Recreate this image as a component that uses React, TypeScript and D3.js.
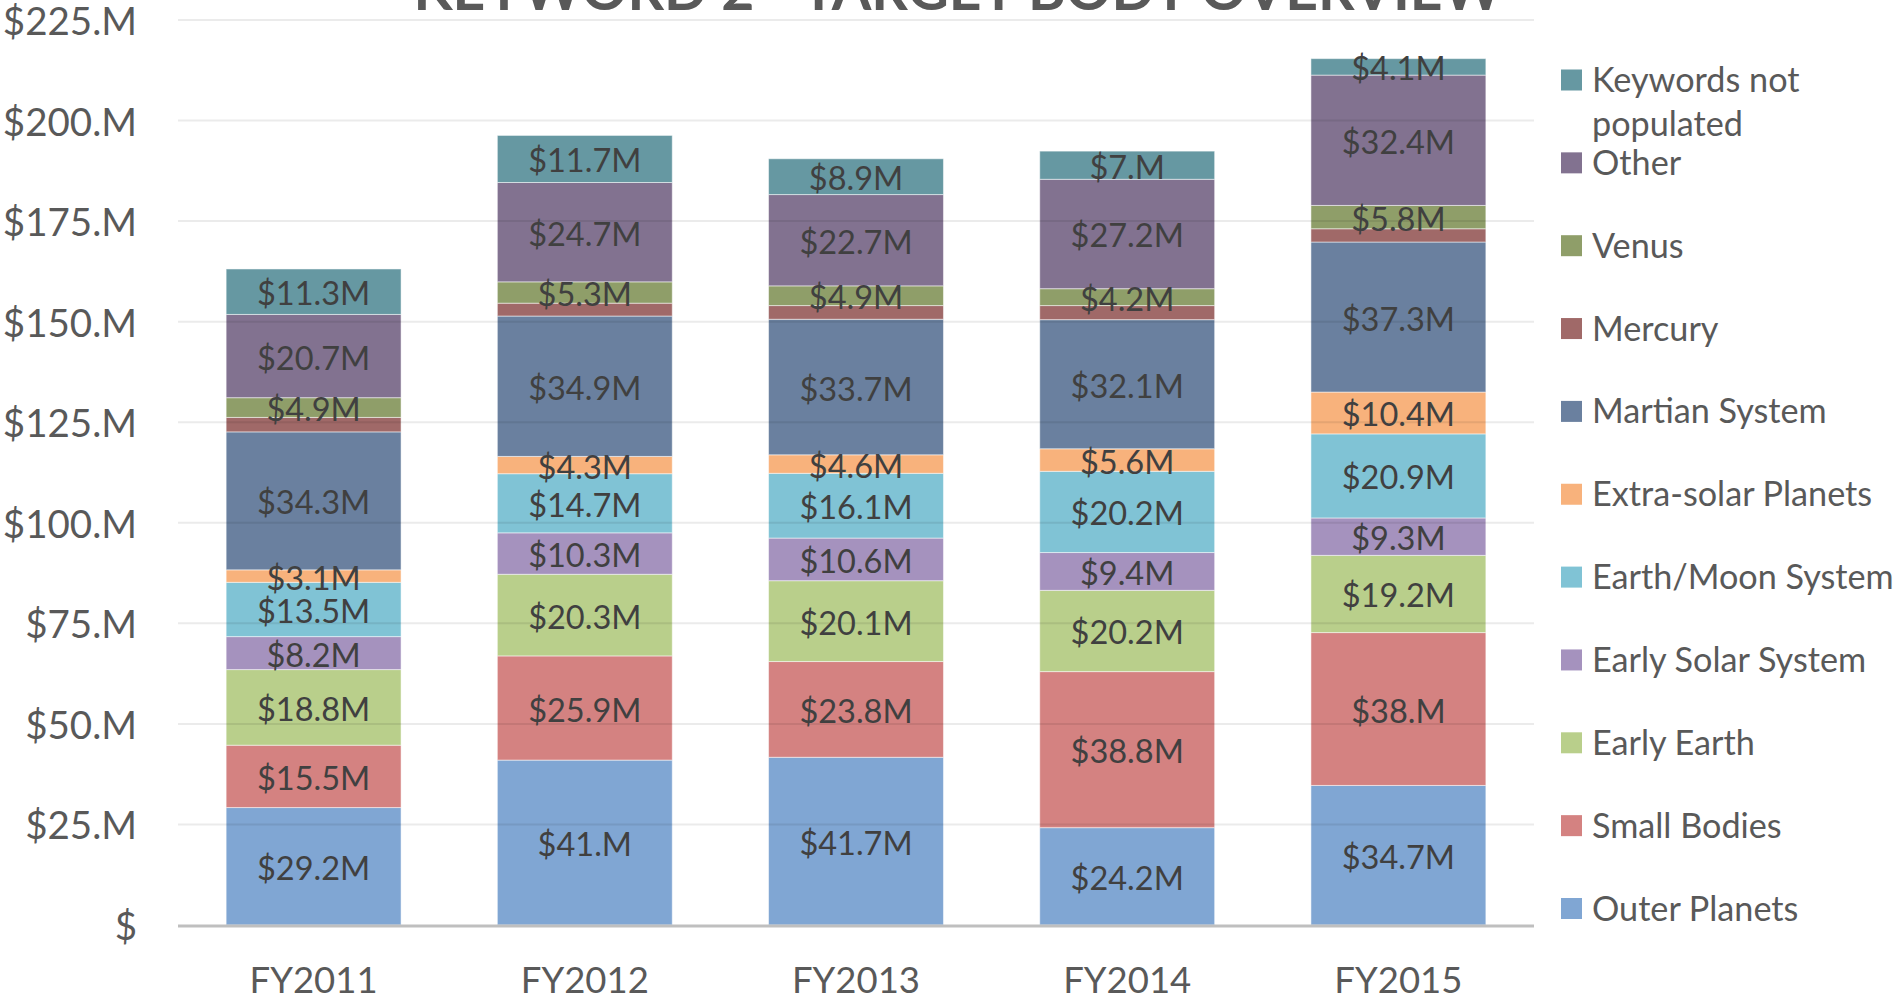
import React, { useRef, useEffect } from 'react';
import * as d3 from "d3";

const width = 1901;
const height = 1002;
const margin = ({top: 20, right: 367, bottom: 77, left: 178});

const title = "KEYWORD 2 - TARGET BODY OVERVIEW";
const years = ["FY2011", "FY2012", "FY2013", "FY2014", "FY2015"];
const yTicks = [0, 25, 50, 75, 100, 125, 150, 175, 200, 225];

// values in $M, bottom of the stack first
const outerPlanets = [29.2, 41.0, 41.7, 24.2, 34.7];
const smallBodies = [15.5, 25.9, 23.8, 38.8, 38.0];
const earlyEarth = [18.8, 20.3, 20.1, 20.2, 19.2];
const earlySolarSystem = [8.2, 10.3, 10.6, 9.4, 9.3];
const earthMoonSystem = [13.5, 14.7, 16.1, 20.2, 20.9];
const extraSolarPlanets = [3.1, 4.3, 4.6, 5.6, 10.4];
const martianSystem = [34.3, 34.9, 33.7, 32.1, 37.3];
const mercury = [3.6, 3.2, 3.4, 3.5, 3.3];
const venus = [4.9, 5.3, 4.9, 4.2, 5.8];
const other = [20.7, 24.7, 22.7, 27.2, 32.4];
const keywordsNotPopulated = [11.3, 11.7, 8.9, 7.0, 4.1];

const series = [
    {name: "Outer Planets", values: outerPlanets, color: "#80a6d3", labels: true},
    {name: "Small Bodies", values: smallBodies, color: "#d48281", labels: true},
    {name: "Early Earth", values: earlyEarth, color: "#b9cf8b", labels: true},
    {name: "Early Solar System", values: earlySolarSystem, color: "#a592be", labels: true},
    {name: "Earth/Moon System", values: earthMoonSystem, color: "#80c3d5", labels: true},
    {name: "Extra-solar Planets", values: extraSolarPlanets, color: "#f8b27c", labels: true},
    {name: "Martian System", values: martianSystem, color: "#6a809f", labels: true},
    {name: "Mercury", values: mercury, color: "#a06968", labels: false},
    {name: "Venus", values: venus, color: "#8f9e69", labels: true},
    {name: "Other", values: other, color: "#827290", labels: true},
    {name: "Keywords not|populated", values: keywordsNotPopulated, color: "#6698a2", labels: true},
];

const font = "Lato, 'Open Sans', sans-serif";

const fmtValue = (v: number) => Number.isInteger(v) ? `$${v}.M` : `$${v}M`;
const fmtTick = (v: number) => v === 0 ? "$" : `$${v}.M`;

export default function App() {
    const d3Container = useRef<SVGSVGElement | null>(null);

    useEffect(() => {
        if (!d3Container.current) return;
        const svg = d3.select(d3Container.current);
        svg.selectAll("*").remove();

        const rows = years.map((year, i) => {
            const row: any = {year};
            series.forEach(s => { row[s.name] = s.values[i]; });
            return row;
        });
        const stacked = d3.stack().keys(series.map(s => s.name))(rows);

        const x = d3.scaleBand()
            .domain(years)
            .range([margin.left, width - margin.right])
            .paddingInner(0.355)
            .paddingOuter(0.1775);

        const y = d3.scaleLinear()
            .domain([0, 225])
            .range([height - margin.bottom, margin.top]);

        // title (runs off the top edge like the original)
        svg.append("text")
            .attr("x", 958)
            .attr("y", 10)
            .attr("text-anchor", "middle")
            .attr("font-family", font)
            .attr("font-weight", "bold")
            .attr("font-size", 57)
            .attr("fill", "#595959")
            .text(title);

        // bars
        const layers = svg.append("g")
            .selectAll("g")
            .data(stacked)
            .join("g")
            .attr("fill", (d, i) => series[i].color);

        layers.selectAll("rect")
            .data(d => d)
            .join("rect")
            .attr("x", (d: any) => x(d.data.year))
            .attr("y", d => y(d[1]))
            .attr("width", x.bandwidth())
            .attr("height", d => y(d[0]) - y(d[1]))
            .attr("stroke", "#ffffff")
            .attr("stroke-opacity", 0.5)
            .attr("stroke-width", 1);

        // gridlines drawn over the translucent-looking bars
        svg.append("g")
            .selectAll("line")
            .data(yTicks.filter(t => t > 0))
            .join("line")
            .attr("x1", margin.left)
            .attr("x2", width - margin.right)
            .attr("y1", d => y(d))
            .attr("y2", d => y(d))
            .attr("stroke", "#000")
            .attr("stroke-opacity", 0.08)
            .attr("stroke-width", 2);

        svg.append("line")
            .attr("x1", margin.left)
            .attr("x2", width - margin.right)
            .attr("y1", y(0) + 1)
            .attr("y2", y(0) + 1)
            .attr("stroke", "#bfbfbf")
            .attr("stroke-width", 3);

        // data labels
        stacked.forEach((layer, i) => {
            if (!series[i].labels) return;
            svg.append("g")
                .selectAll("text")
                .data(layer)
                .join("text")
                .attr("x", (d: any) => x(d.data.year) + x.bandwidth() / 2)
                .attr("y", d => (y(d[0]) + y(d[1])) / 2 + 13.5)
                .attr("text-anchor", "middle")
                .attr("font-family", font)
                .attr("font-size", 32.5)
                .attr("fill", "#404040")
                .text((d, j) => fmtValue(series[i].values[j]));
        });

        // y axis labels
        svg.append("g")
            .selectAll("text")
            .data(yTicks)
            .join("text")
            .attr("x", 137)
            .attr("y", d => y(d) + 15)
            .attr("text-anchor", "end")
            .attr("font-family", font)
            .attr("font-size", 38.5)
            .attr("fill", "#595959")
            .text(d => fmtTick(d));

        // x axis labels
        svg.append("g")
            .selectAll("text")
            .data(years)
            .join("text")
            .attr("x", d => x(d) + x.bandwidth() / 2)
            .attr("y", 993)
            .attr("text-anchor", "middle")
            .attr("font-family", font)
            .attr("font-size", 36.5)
            .attr("fill", "#595959")
            .text(d => d);

        // legend, top entry is the last series
        const legendY = d3.scaleLinear().domain([0, 10]).range([908.5, 80]);
        const legend = svg.append("g")
            .selectAll("g")
            .data(series)
            .join("g")
            .attr("transform", (d, i) => `translate(1561,${legendY(i)})`);

        legend.append("rect")
            .attr("x", 0)
            .attr("y", -10.5)
            .attr("width", 21)
            .attr("height", 21)
            .attr("fill", d => d.color);

        legend.append("text")
            .attr("font-family", font)
            .attr("font-size", 34.2)
            .attr("fill", "#595959")
            .selectAll("tspan")
            .data(d => d.name.split("|"))
            .join("tspan")
            .attr("x", 31)
            .attr("y", (d, i) => 12 + i * 44)
            .text(d => d);
    }, []);

    return (
        <svg ref={d3Container} width={width} height={height}
            style={{position: "absolute", left: 0, top: 0, display: "block", background: "#fff"}} />
    );
}
